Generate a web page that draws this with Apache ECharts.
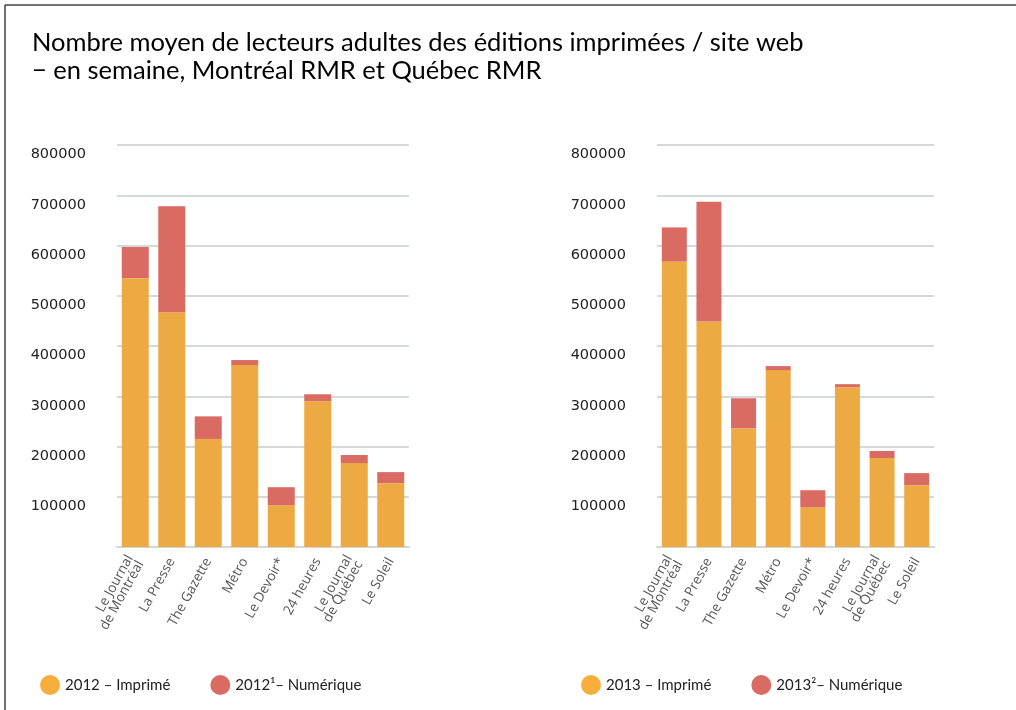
<!DOCTYPE html>
<html>
<head>
<meta charset="utf-8">
<title>Lecteurs adultes</title>
<script src="https://cdn.jsdelivr.net/npm/echarts@6/dist/echarts.min.js"></script>
<style>
  html, body { margin: 0; padding: 0; background: #fff; }
  #chart { width: 1016px; height: 710px; }
</style>
</head>
<body>
<div id="chart"></div>
<script>
// journaux (libellés de l'axe x)
const journaux = ['Le Journal\nde Montréal', 'La Presse', 'The Gazette', 'Métro', 'Le Devoir*', '24 heures', 'Le Journal\nde Québec', 'Le Soleil']

// 2012
const imprime2012 = [535000, 467000, 215000, 362000, 83000, 290000, 167000, 127000]
const numerique2012 = [62000, 211000, 45000, 10000, 36000, 14000, 16000, 22000]

// 2013
const imprime2013 = [568000, 449000, 236000, 352000, 79000, 318000, 177000, 123000]
const numerique2013 = [68000, 238000, 60000, 8000, 34000, 6000, 14000, 24000]

const noms = ['2012 – Imprimé', '2012¹– Numérique', '2013 – Imprimé', '2013²– Numérique']

const orange = '#EEAA42'
const rouge = '#D96B62'

const chart = echarts.init(document.getElementById('chart'))

function axeX (idx) {
    return {
        type: 'category',
        gridIndex: idx,
        data: journaux,
        axisLine: { lineStyle: { color: '#d4d6d6', width: 2 } },
        axisTick: { show: false },
        axisLabel: {
            interval: 0,
            rotate: 61,
            margin: 12,
            fontFamily: 'Open Sans',
            fontSize: 13.5,
            lineHeight: 12,
            color: '#555'
        }
    }
}

function axeY (idx) {
    return {
        type: 'value',
        gridIndex: idx,
        min: 0,
        max: 800000,
        interval: 100000,
        axisLine: { show: false },
        axisTick: { show: false },
        splitLine: { lineStyle: { color: '#c9cdcd', width: 1.5 } },
        axisLabel: {
            showMinLabel: false,
            margin: 31,
            verticalAlign: 'top',
            padding: [2, 0, 0, 0],
            formatter: function (v) { return String(v) },
            fontFamily: 'DejaVu Sans',
            fontSize: 14.5,
            color: '#222'
        }
    }
}

function barre (nom, data, couleur, idx, largeur) {
    return {
        name: nom,
        type: 'bar',
        stack: 'total' + idx,
        xAxisIndex: idx,
        yAxisIndex: idx,
        barWidth: largeur,
        data: data,
        itemStyle: { color: couleur }
    }
}

function legende (gauche, a, b) {
    return {
        left: gauche,
        top: 670,
        icon: 'circle',
        itemWidth: 20,
        itemHeight: 20,
        itemGap: 40,
        textStyle: { fontFamily: 'Lato', fontSize: 15, color: '#222' },
        data: [
            { name: a, itemStyle: { color: '#F8AE3C' } },
            { name: b, itemStyle: { color: rouge } }
        ]
    }
}

let option = {
    animation: false,
    backgroundColor: '#fff',
    title: {
        text: 'Nombre moyen de lecteurs adultes des éditions imprimées / site web\n− en semaine, Montréal RMR et Québec RMR',
        left: 32,
        top: 29,
        padding: 0,
        textStyle: {
            fontFamily: 'Lato',
            fontWeight: 'normal',
            fontSize: 25.5,
            lineHeight: 28,
            color: '#000'
        }
    },
    legend: [
        legende(35, noms[0], noms[1]),
        legende(576, noms[2], noms[3])
    ],
    grid: [
        { left: 117, width: 292, top: 145, height: 402 },
        { left: 657, width: 277, top: 145, height: 402 }
    ],
    xAxis: [axeX(0), axeX(1)],
    yAxis: [axeY(0), axeY(1)],
    series: [
        barre(noms[0], imprime2012, orange, 0, 27),
        barre(noms[1], numerique2012, rouge, 0, 27),
        barre(noms[2], imprime2013, orange, 1, 25),
        barre(noms[3], numerique2013, rouge, 1, 25)
    ],
    graphic: [
        // cadre
        { type: 'line', shape: { x1: 5, y1: 5, x2: 1016, y2: 5 }, style: { stroke: '#444', lineWidth: 1.5 } },
        { type: 'line', shape: { x1: 5, y1: 5, x2: 5, y2: 710 }, style: { stroke: '#444', lineWidth: 1.5 } }
    ]
}

chart.setOption(option)
</script>
</body>
</html>
